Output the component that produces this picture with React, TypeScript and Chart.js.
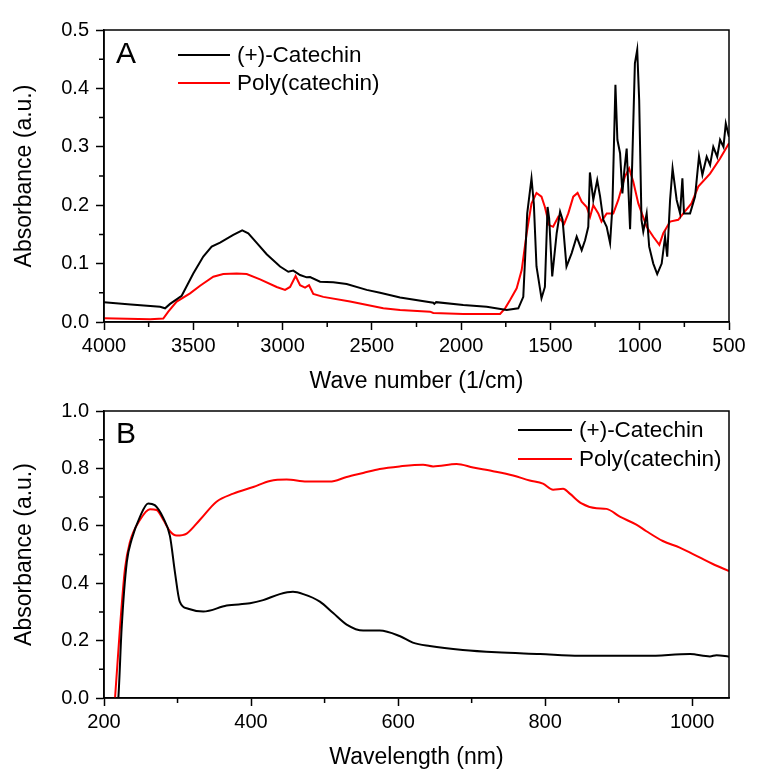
import React, { useEffect, useRef } from "react";
import { Chart, registerables } from "chart.js";
Chart.register(...registerables);

const FONT = "'Liberation Sans', Arial, Helvetica, sans-serif";

const seriesLabels = ["(+)-Catechin", "Poly(catechin)"];
const seriesColors = ["#000000", "#ff0000"];

// ---------- Panel A: FTIR ----------
const irTicksX = [4000, 3500, 3000, 2500, 2000, 1500, 1000, 500];
const irTicksY = [0, 0.1, 0.2, 0.3, 0.4, 0.5];

const catechinIRWavenumber = [
  4000, 3850, 3686, 3658, 3630, 3565, 3500, 3444, 3397, 3350, 3276, 3226, 3192, 3146, 3089, 3014,
  2968, 2940, 2902, 2865, 2846, 2790, 2716, 2641, 2529, 2454, 2342, 2156, 2150, 2140, 1988, 1857,
  1745, 1680, 1652, 1630, 1606, 1593, 1578, 1550, 1531, 1516, 1507, 1490, 1465, 1446, 1432, 1410,
  1381, 1353, 1325, 1306, 1288, 1279, 1260, 1238, 1222, 1204, 1185, 1166, 1153, 1136, 1125, 1110,
  1097, 1086, 1073, 1064, 1054, 1042, 1027, 1014, 1003, 990, 980, 961, 947, 924, 902, 877,
  858, 846, 830, 816, 793, 774, 761, 752, 718, 690, 668, 649, 625, 606, 588, 566,
  550, 531, 518, 500,
];
const catechinIRAbsorbance = [
  0.034, 0.030, 0.026, 0.0235, 0.031, 0.045, 0.083, 0.112, 0.129, 0.136, 0.149, 0.157, 0.152, 0.136, 0.116, 0.095,
  0.086, 0.088, 0.0805, 0.0765, 0.077, 0.069, 0.068, 0.065, 0.055, 0.050, 0.042, 0.033, 0.031, 0.034, 0.029, 0.026,
  0.0205, 0.0234, 0.043, 0.186, 0.246, 0.203, 0.095, 0.0405, 0.060, 0.197, 0.177, 0.078, 0.152, 0.189, 0.175, 0.095,
  0.118, 0.146, 0.123, 0.140, 0.163, 0.256, 0.209, 0.243, 0.215, 0.175, 0.163, 0.135, 0.197, 0.406, 0.312, 0.289,
  0.220, 0.260, 0.297, 0.232, 0.159, 0.272, 0.443, 0.466, 0.380, 0.175, 0.155, 0.186, 0.129, 0.100, 0.082, 0.100,
  0.146, 0.112, 0.209, 0.263, 0.209, 0.186, 0.246, 0.186, 0.186, 0.215, 0.284, 0.252, 0.283, 0.269, 0.300, 0.283,
  0.312, 0.300, 0.340, 0.317,
];

const polyIRWavenumber = [
  4000, 3742, 3668, 3640, 3593, 3518, 3462, 3388, 3332, 3257, 3201, 3126, 3033, 2986, 2958, 2927,
  2902, 2874, 2852, 2828, 2772, 2622, 2436, 2342, 2174, 2156, 1988, 1782, 1754, 1726, 1689, 1661,
  1633, 1606, 1578, 1550, 1531, 1507, 1485, 1456, 1423, 1400, 1372, 1348, 1325, 1297, 1278, 1260,
  1232, 1214, 1185, 1148, 1120, 1083, 1059, 1036, 1008, 961, 924, 890, 868, 830, 784, 756,
  710, 672, 606, 550, 500,
];
const polyIRAbsorbance = [
  0.0063, 0.0046, 0.006, 0.0177, 0.035, 0.049, 0.062, 0.0776, 0.082, 0.083, 0.082, 0.073, 0.060, 0.055, 0.060, 0.0788,
  0.063, 0.059, 0.063, 0.048, 0.043, 0.035, 0.0234, 0.0205, 0.0177, 0.0154, 0.0137, 0.0137, 0.0234, 0.0377, 0.0577, 0.089,
  0.152, 0.203, 0.221, 0.2146, 0.197, 0.166, 0.163, 0.180, 0.168, 0.186, 0.2146, 0.221, 0.206, 0.197, 0.180, 0.200,
  0.186, 0.172, 0.186, 0.186, 0.209, 0.249, 0.263, 0.240, 0.203, 0.163, 0.146, 0.132, 0.152, 0.172, 0.175, 0.186,
  0.203, 0.232, 0.254, 0.280, 0.306,
];

// ---------- Panel B: UV-Vis ----------
const uvTicksX = [200, 400, 600, 800, 1000];
const uvTicksY = [0, 0.2, 0.4, 0.6, 0.8, 1.0];

const catechinUVWavelength = [
  216, 219.5, 224, 231, 237.6, 249, 260, 269, 280.6, 289.7, 296.5, 303, 314.6, 335, 366.8, 398.5,
  416.5, 439, 457, 471, 493.6, 511.7, 530, 552.5, 575, 602, 620, 643, 688, 734, 793, 847,
  938, 997, 1024, 1033, 1050,
];
const catechinUVAbsorbance = [
  -0.06, 0.0, 0.244, 0.473, 0.552, 0.632, 0.678, 0.672, 0.627, 0.564, 0.438, 0.336, 0.311, 0.301, 0.322, 0.330,
  0.341, 0.362, 0.370, 0.362, 0.336, 0.296, 0.256, 0.235, 0.235, 0.216, 0.193, 0.181, 0.167, 0.159, 0.153, 0.147,
  0.147, 0.153, 0.145, 0.149, 0.144,
];

const polyUVWavelength = [
  213, 215, 221.7, 228.5, 235, 249, 262.5, 271.6, 280.6, 289.7, 298.8, 312.4, 330.5, 353, 375.8, 403,
  425.7, 448.4, 475.6, 507, 530, 552.5, 575, 602, 634, 647.6, 679.5, 702, 729.2, 756.4, 779, 797,
  810.8, 824.4, 833.5, 849.4, 869.8, 883.4, 901.5, 924, 937.7, 960, 983, 1010, 1028, 1050,
];
const polyUVAbsorbance = [
  -0.06, 0.0, 0.244, 0.45, 0.541, 0.621, 0.658, 0.655, 0.621, 0.581, 0.566, 0.573, 0.621, 0.684, 0.712, 0.735,
  0.756, 0.761, 0.754, 0.754, 0.770, 0.784, 0.798, 0.807, 0.813, 0.807, 0.815, 0.803, 0.790, 0.775, 0.758, 0.747,
  0.726, 0.729, 0.712, 0.678, 0.661, 0.659, 0.632, 0.604, 0.581, 0.547, 0.524, 0.490, 0.467, 0.442,
];

const toPoints = (xs: number[], ys: number[]) => xs.map((x, i) => ({ x, y: ys[i] }));
const midpoints = (arr: number[]) => {
  const out: number[] = [];
  for (let i = 0; i < arr.length - 1; i++) out.push((arr[i] + arr[i + 1]) / 2);
  return out;
};

const decorPlugin = {
  id: "decor",
  afterDraw(chart: any, _args: any, opts: any) {
    const { ctx, chartArea: a, scales } = chart;
    ctx.save();
    ctx.strokeStyle = "#000";
    ctx.lineWidth = 1.5;
    ctx.strokeRect(a.left, a.top, a.right - a.left, a.bottom - a.top);
    // minor ticks
    ctx.beginPath();
    (opts.minorX || []).forEach((v: number) => {
      const x = scales.x.getPixelForValue(v);
      if (x < a.left - 0.5 || x > a.right + 0.5) return;
      ctx.moveTo(x, a.bottom);
      ctx.lineTo(x, a.bottom + 5);
    });
    (opts.minorY || []).forEach((v: number) => {
      const y = scales.y.getPixelForValue(v);
      if (y < a.top - 0.5 || y > a.bottom + 0.5) return;
      ctx.moveTo(a.left, y);
      ctx.lineTo(a.left - 5, y);
    });
    ctx.stroke();
    // panel letter
    ctx.fillStyle = "#000";
    ctx.textAlign = "left";
    ctx.textBaseline = "middle";
    ctx.font = `30px ${FONT}`;
    ctx.fillText(opts.letter, a.left + opts.letterDx, a.top + opts.letterDy);
    // legend
    ctx.font = `22.5px ${FONT}`;
    chart.data.datasets.forEach((ds: any, i: number) => {
      const y = a.top + opts.legendDy + i * opts.legendRow;
      const x0 = a.left + opts.legendDx;
      ctx.strokeStyle = ds.borderColor;
      ctx.lineWidth = 2;
      ctx.beginPath();
      ctx.moveTo(x0, y);
      ctx.lineTo(x0 + opts.legendLine, y);
      ctx.stroke();
      ctx.fillStyle = "#000";
      ctx.fillText(ds.label, x0 + opts.legendLine + 7, y + 1);
    });
    ctx.restore();
  },
};

function makeScale(opts: {
  ticks: number[];
  min: number;
  max: number;
  reverse?: boolean;
  fmt: (v: number) => string;
  title: string;
  horizontal: boolean;
  size: number;
  titlePad: number;
}) {
  return {
    type: "linear",
    min: opts.min,
    max: opts.max,
    reverse: !!opts.reverse,
    position: opts.horizontal ? "bottom" : "left",
    afterBuildTicks: (scale: any) => {
      scale.ticks = opts.ticks.map((v) => ({ value: v }));
    },
    afterFit: (scale: any) => {
      if (opts.horizontal) scale.height = opts.size;
      else scale.width = opts.size;
    },
    grid: {
      display: true,
      drawOnChartArea: false,
      drawTicks: true,
      tickLength: 8,
      tickColor: "#000",
      tickWidth: 1.5,
    },
    border: { display: true, color: "#000", width: 1.5 },
    ticks: {
      color: "#000",
      font: { family: FONT, size: 20 },
      padding: opts.horizontal ? 4.5 : 7,
      maxRotation: 0,
      autoSkip: false,
      callback: (v: any) => opts.fmt(Number(v)),
    },
    title: {
      display: true,
      text: opts.title,
      color: "#000",
      font: { family: FONT, size: 23 },
      padding: opts.horizontal ? { top: 0, bottom: opts.titlePad } : { top: opts.titlePad, bottom: 0 },
    },
  };
}

function PanelA() {
  const ref = useRef<HTMLCanvasElement>(null);
  useEffect(() => {
    const chart = new Chart(ref.current as HTMLCanvasElement, {
      type: "line",
      data: {
        datasets: [
          {
            label: seriesLabels[0],
            data: toPoints(catechinIRWavenumber, catechinIRAbsorbance),
            borderColor: seriesColors[0],
            borderWidth: 2,
            pointRadius: 0,
            tension: 0,
          },
          {
            label: seriesLabels[1],
            data: toPoints(polyIRWavenumber, polyIRAbsorbance),
            borderColor: seriesColors[1],
            borderWidth: 2,
            pointRadius: 0,
            tension: 0,
          },
        ],
      },
      options: {
        responsive: false,
        animation: false,
        events: [],
        layout: { padding: { top: 30, right: 36, left: 0, bottom: 0 } },
        scales: {
          x: makeScale({
            ticks: irTicksX, min: 500, max: 4000, reverse: true, fmt: (v) => String(v),
            title: "Wave number (1/cm)", horizontal: true, size: 75, titlePad: 1.2,
          }),
          y: makeScale({
            ticks: irTicksY, min: 0, max: 0.5, fmt: (v) => v.toFixed(1),
            title: "Absorbance (a.u.)", horizontal: false, size: 104, titlePad: 11,
          }),
        } as any,
        plugins: {
          legend: { display: false },
          tooltip: { enabled: false },
          decor: {
            letter: "A", letterDx: 12, letterDy: 25,
            legendDx: 74, legendDy: 25, legendRow: 28, legendLine: 52,
            minorX: midpoints(irTicksX), minorY: midpoints(irTicksY),
          },
        } as any,
      },
      plugins: [decorPlugin],
    } as any);
    return () => chart.destroy();
  }, []);
  return (
    <canvas ref={ref} width={765} height={397}
      style={{ position: "absolute", left: 0, top: 0, width: 765, height: 397 }} />
  );
}

function PanelB() {
  const ref = useRef<HTMLCanvasElement>(null);
  useEffect(() => {
    const chart = new Chart(ref.current as HTMLCanvasElement, {
      type: "line",
      data: {
        datasets: [
          {
            label: seriesLabels[0],
            data: toPoints(catechinUVWavelength, catechinUVAbsorbance),
            borderColor: seriesColors[0],
            borderWidth: 2,
            pointRadius: 0,
            cubicInterpolationMode: "monotone",
          },
          {
            label: seriesLabels[1],
            data: toPoints(polyUVWavelength, polyUVAbsorbance),
            borderColor: seriesColors[1],
            borderWidth: 2,
            pointRadius: 0,
            cubicInterpolationMode: "monotone",
          },
        ],
      },
      options: {
        responsive: false,
        animation: false,
        events: [],
        layout: { padding: { top: 14, right: 36, left: 0, bottom: 0 } },
        scales: {
          x: makeScale({
            ticks: uvTicksX, min: 200, max: 1050, fmt: (v) => String(v),
            title: "Wavelength (nm)", horizontal: true, size: 86, titlePad: 12.2,
          }),
          y: makeScale({
            ticks: uvTicksY, min: 0, max: 1.0, fmt: (v) => v.toFixed(1),
            title: "Absorbance (a.u.)", horizontal: false, size: 104, titlePad: 11,
          }),
        } as any,
        plugins: {
          legend: { display: false },
          tooltip: { enabled: false },
          decor: {
            letter: "B", letterDx: 12, letterDy: 24,
            legendDx: 414, legendDy: 19, legendRow: 29, legendLine: 54,
            minorX: midpoints([...uvTicksX, 1200]), minorY: midpoints(uvTicksY),
          },
        } as any,
      },
      plugins: [decorPlugin],
    } as any);
    return () => chart.destroy();
  }, []);
  return (
    <canvas ref={ref} width={765} height={392}
      style={{ position: "absolute", left: 0, top: 392, width: 765, height: 392 }} />
  );
}

export default function App() {
  return (
    <div style={{ position: "absolute", left: 0, top: 0, width: 765, height: 784, background: "#fff" }}>
      <PanelA />
      <PanelB />
    </div>
  );
}
